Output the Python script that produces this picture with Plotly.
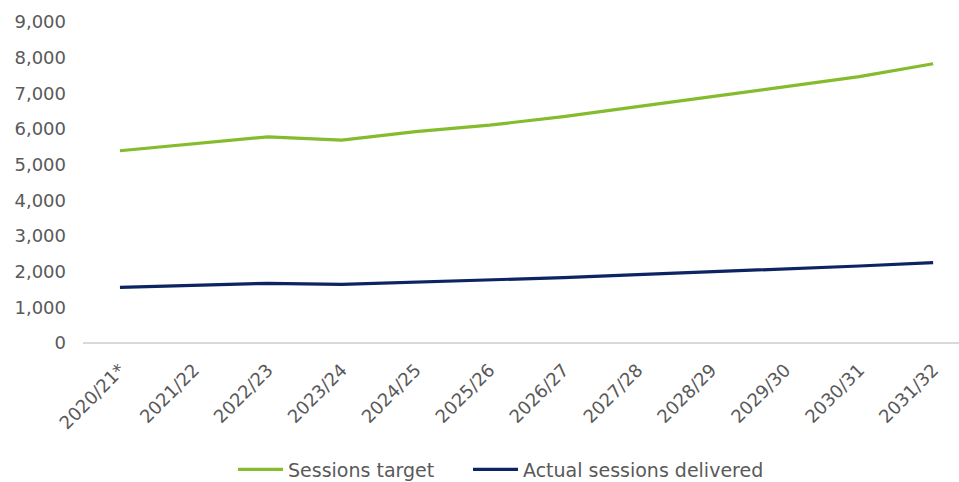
import plotly.graph_objects as go

categories = ["2020/21*", "2021/22", "2022/23", "2023/24", "2024/25", "2025/26",
              "2026/27", "2027/28", "2028/29", "2029/30", "2030/31", "2031/32"]
sessions_target = [5390, 5595, 5780, 5690, 5925, 6110, 6345, 6625, 6910, 7200, 7467, 7830]
actual_delivered = [1560, 1615, 1673, 1645, 1701, 1760, 1832, 1916, 1990, 2065, 2159, 2252]
y_ticks = [0, 1000, 2000, 3000, 4000, 5000, 6000, 7000, 8000, 9000]

FONT = "DejaVu Sans, Verdana, sans-serif"
GREY = "#595959"

fig = go.Figure()
fig.add_trace(go.Scatter(x=list(range(len(categories))), y=sessions_target, mode="lines",
                         name="Sessions target", line=dict(color="#84BC2D", width=3.2),
                         legend="legend"))
fig.add_trace(go.Scatter(x=list(range(len(categories))), y=actual_delivered, mode="lines",
                         name="Actual sessions delivered", line=dict(color="#0C2461", width=3.2),
                         legend="legend2"))

legend_style = dict(orientation="h", xref="container", xanchor="left", y=-0.335, yanchor="top",
                    font=dict(family=FONT, size=19, color=GREY), itemwidth=45)

fig.update_layout(
    width=959, height=482,
    margin=dict(l=83, r=0, t=22, b=139, autoexpand=False),
    plot_bgcolor="white", paper_bgcolor="white",
    font=dict(family=FONT, size=18, color=GREY),
    showlegend=True,
    legend=dict(x=233 / 959, **legend_style),
    legend2=dict(x=468 / 959, **legend_style),
    xaxis=dict(range=[-0.5, 11.35], tickmode="array", tickvals=list(range(len(categories))),
               ticktext=categories, tickangle=-45, showgrid=False, zeroline=False,
               showline=False, ticks="", automargin=False, ticklabelstandoff=12,
               tickfont=dict(size=18, color=GREY)),
    yaxis=dict(range=[0, 9000], tickmode="array", tickvals=y_ticks,
               ticktext=[f"{v:,}" for v in y_ticks], showgrid=False,
               zeroline=True, zerolinecolor="#D9D9D9", zerolinewidth=1.5,
               showline=False, ticks="", ticklabelstandoff=16, automargin=False,
               tickfont=dict(size=18, color=GREY)),
)

fig.write_html("out.html")
